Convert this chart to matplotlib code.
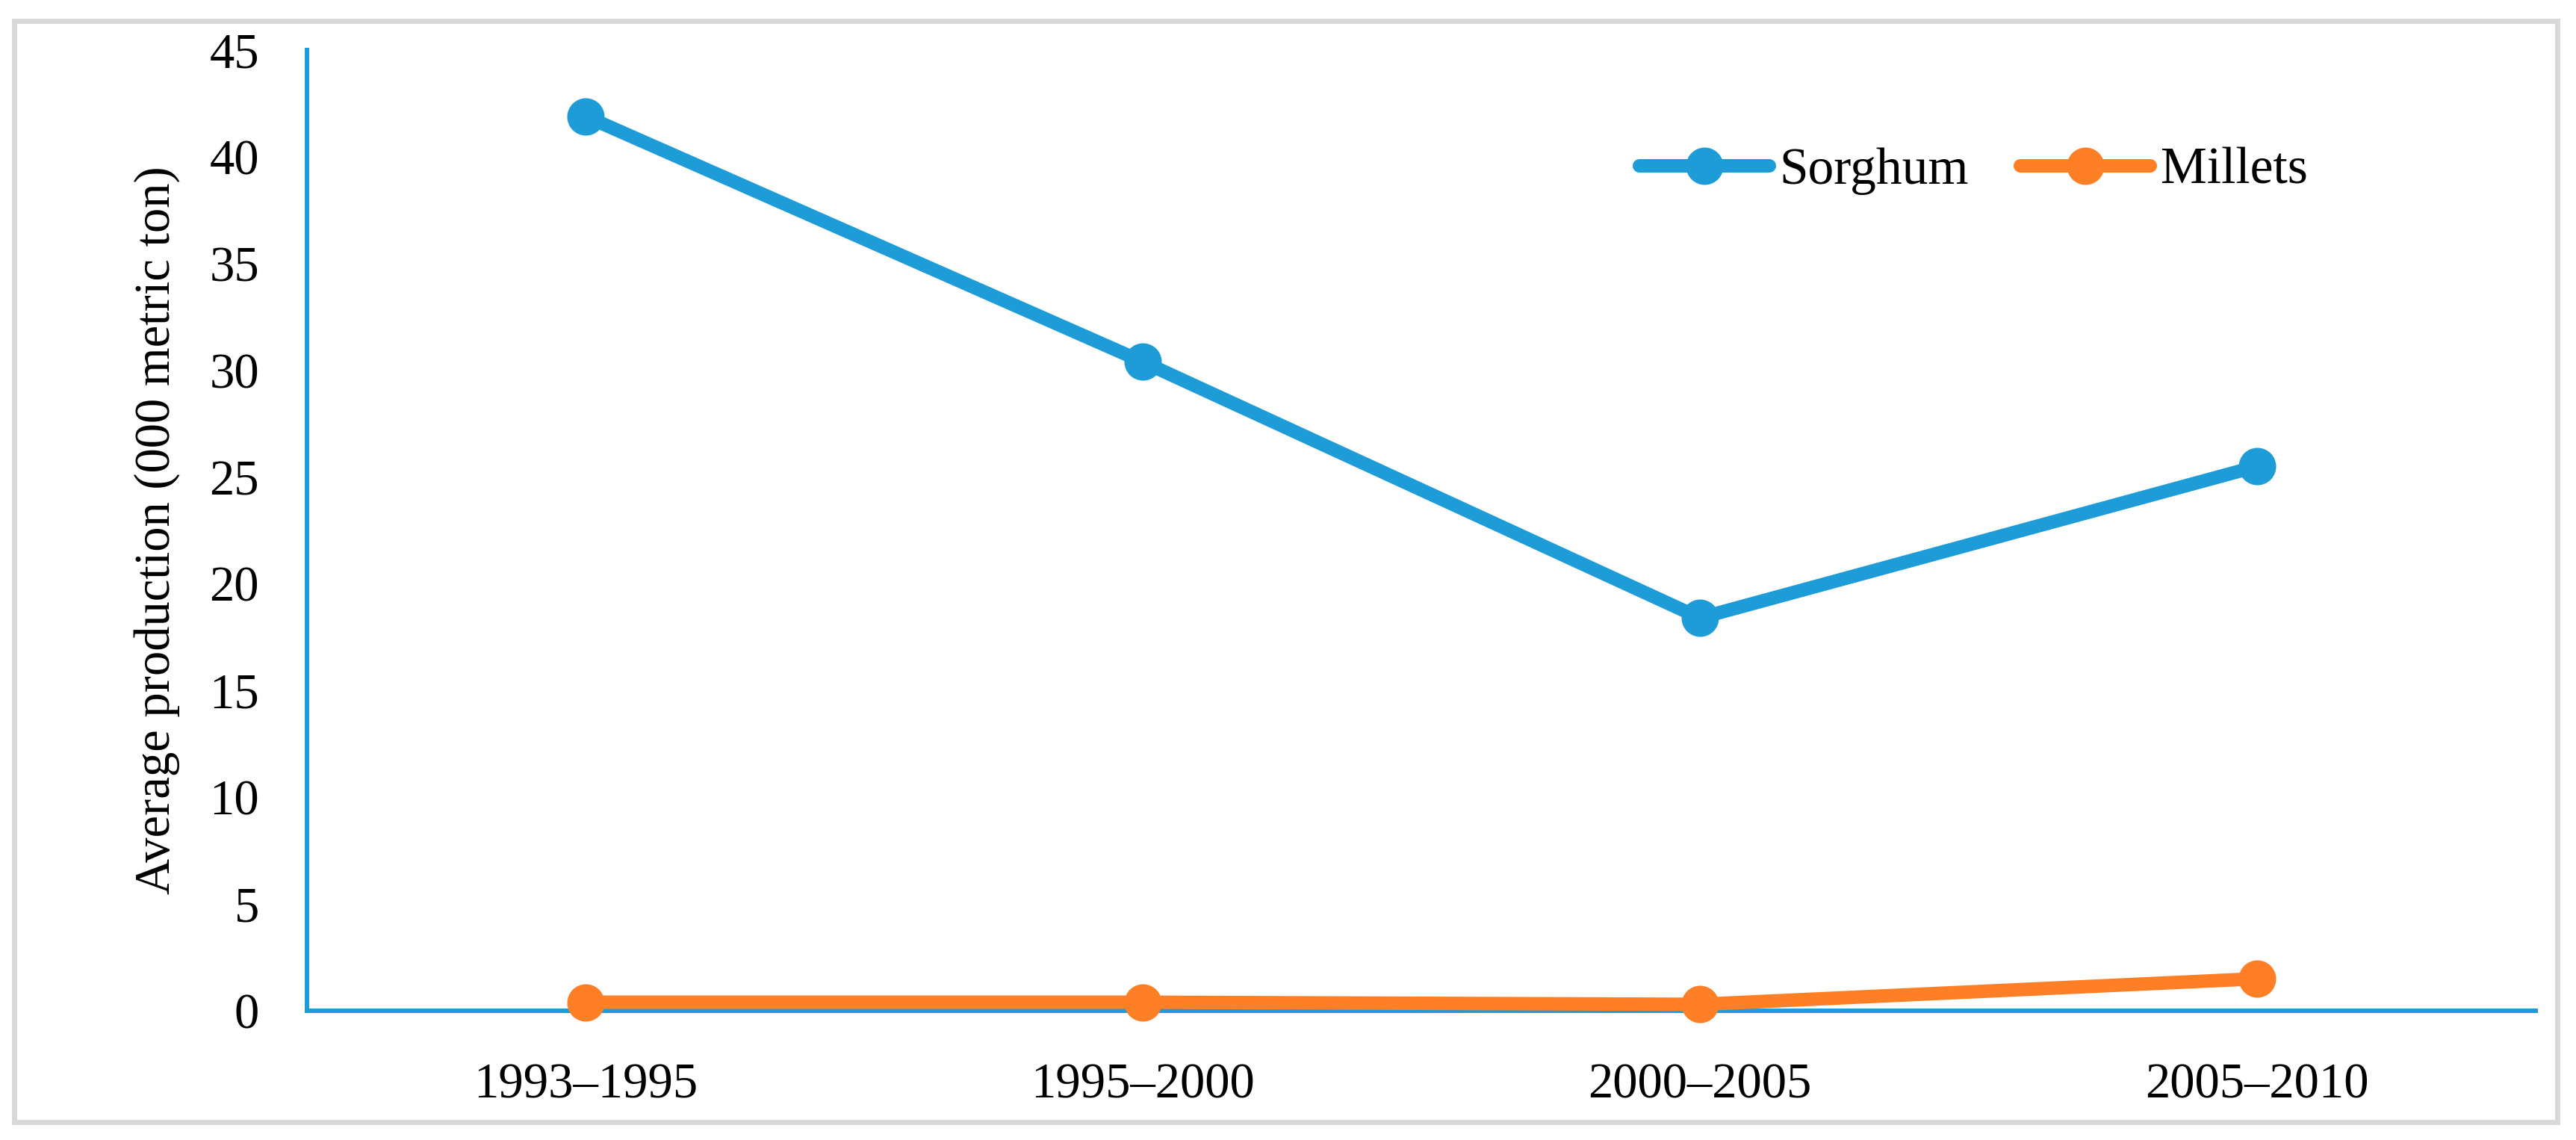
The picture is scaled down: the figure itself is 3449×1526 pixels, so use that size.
import matplotlib.pyplot as plt
from matplotlib.patches import Rectangle

# Data
periods = ['1993–1995', '1995–2000', '2000–2005', '2005–2010']
sorghum = [41.9, 30.4, 18.4, 25.5]
millets = [0.4, 0.4, 0.3, 1.5]

blue = '#1E9CD7'
orange = '#FE7F26'

plt.rcParams['font.family'] = ['Liberation Serif', 'DejaVu Serif']

W, H = 3449, 1526
fig = plt.figure(figsize=(W / 100, H / 100), dpi=100)
ax = fig.add_axes([411 / W, 1 - 1353 / H, (3395 - 411) / W, (1353 - 67) / H])

x = range(len(periods))
ax.plot(x, sorghum, color=blue, lw=13, marker='o', ms=35,
        solid_capstyle='round', label='Sorghum', clip_on=False, zorder=4)
ax.plot(x, millets, color=orange, lw=13, marker='o', ms=35,
        solid_capstyle='round', label='Millets', clip_on=False, zorder=4)

ax.set_xlim(-0.5, 3.5)
ax.set_ylim(0, 45)
ax.set_xticks(list(x))
ax.set_xticklabels(periods)
ax.set_yticks(range(0, 46, 5))
ax.tick_params(axis='both', length=0, labelsize=48)
ax.tick_params(axis='x', pad=50)
ax.tick_params(axis='y', pad=46)

for s in ['top', 'right']:
    ax.spines[s].set_visible(False)
for s in ['left', 'bottom']:
    ax.spines[s].set_color(blue)
    ax.spines[s].set_linewidth(4.3)

ax.set_ylabel('Average production (000 metric ton)', fontsize=48, labelpad=28)

leg = ax.legend(loc='center left', bbox_to_anchor=(2195 / W, 1 - 229 / H),
                bbox_transform=fig.transFigure, ncol=2, frameon=False,
                fontsize=50, handlelength=2.5, handletextpad=0.2,
                columnspacing=1.0, borderpad=0, borderaxespad=0)

# grey outer frame
fig.patches.append(Rectangle((19 / W, 1 - 1502 / H), (3424 - 19) / W, (1502 - 28) / H,
                             transform=fig.transFigure, fill=False,
                             edgecolor='#D9D9D9', lw=5))

fig.savefig('out.png', dpi=100)
